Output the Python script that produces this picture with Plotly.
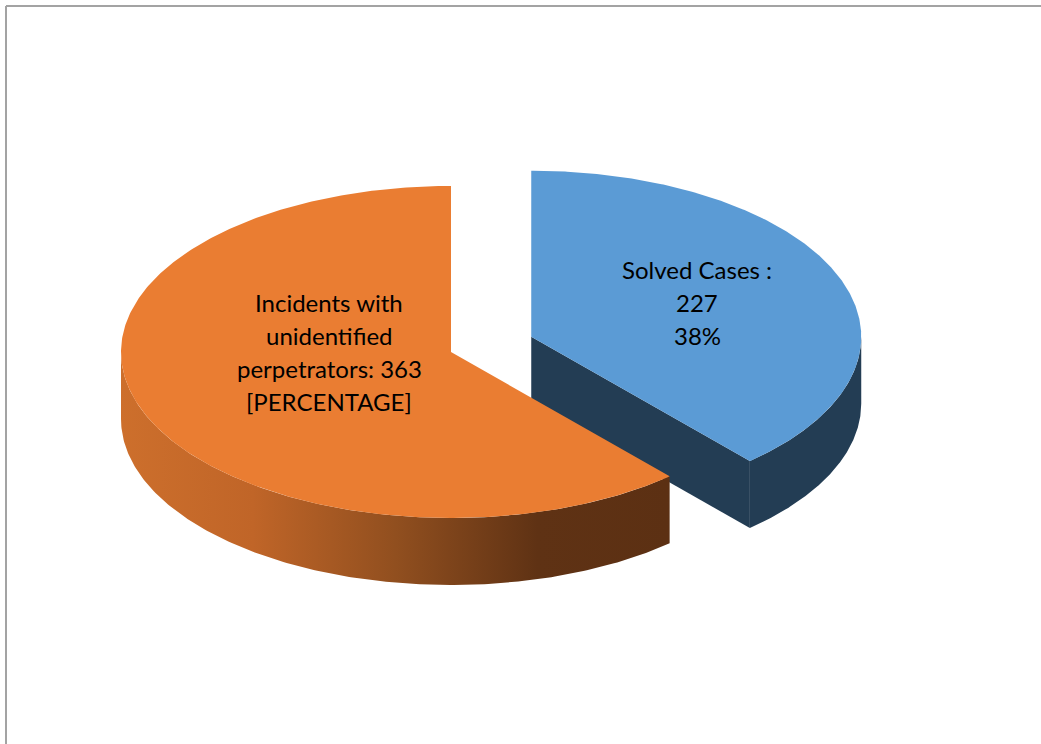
import numpy as np
import plotly.graph_objects as go

# --- data -------------------------------------------------------------
categories = ["Solved Cases", "Incidents with unidentified perpetrators"]
counts = [227, 363]

total = sum(counts)
solved_pct = round(100 * counts[0] / total)

# text lines of each slice label
label_lines = [
    [f"{categories[0]} :", f"{counts[0]}", f"{solved_pct}%"],
    ["Incidents with", "unidentified", f"perpetrators: {counts[1]}", "[PERCENTAGE]"],
]

# --- styling / geometry of the 3-D pie --------------------------------
W, H = 1041, 744
CX, CY = 451.0, 352.0      # centre of the top face (pixels)
RX, RY = 330.0, 166.0      # ellipse radii of the tilted disc
DEPTH = 67.0               # thickness of the disc
explode = [0.26, 0.0]      # radial offset of each slice, fraction of radius
top_colors = ["#5b9bd5", "#ea7d32"]
side_colors = ["#233d54", None]
side_gradients = [None, [[0.0, "#cd6f2c"], [0.24, "#c06528"], [0.5, "#914f1f"],
                         [0.76, "#5f3214"], [1.0, "#5c3013"]]]
label_centres = [(697, 302), (329, 352)]
LINE_STEP = 33
FONT = dict(family="Lato, 'Open Sans', sans-serif", size=24, color="#000000")


def ellipse_pts(cx, cy, angles_deg, dy=0.0):
    a = np.radians(angles_deg)
    return cx + RX * np.cos(a), cy - RY * np.sin(a) + dy


def front_interval(a_lo, a_hi):
    """Part of [a_lo, a_hi] that lies on the near half of the disc (sin < 0)."""
    out = []
    for k in range(-2, 3):
        lo, hi = -180 + 360 * k, 0 + 360 * k
        s, e = max(a_lo, lo), min(a_hi, hi)
        if e > s:
            out.append((s, e))
    return out


fig = go.Figure()

# slice angle spans: start at 12 o'clock, run clockwise
slices = []
cum = 0
for i, v in enumerate(counts):
    a0 = 90 - 360 * cum / total
    cum += v
    a1 = 90 - 360 * cum / total
    mid = (a0 + a1) / 2
    ox = explode[i] * RX * np.cos(np.radians(mid))
    oy = -explode[i] * RY * np.sin(np.radians(mid))
    slices.append(dict(i=i, a0=a0, a1=a1, mid=mid, cx=CX + ox, cy=CY + oy))

# paint back slices first
slices.sort(key=lambda s: -np.sin(np.radians(s["mid"])))

for s in slices:
    i, a0, a1, cx, cy = s["i"], s["a0"], s["a1"], s["cx"], s["cy"]
    if side_gradients[i] is not None:
        side_kw = dict(fillgradient=dict(type="horizontal", colorscale=side_gradients[i]))
    else:
        side_kw = dict(fillcolor=side_colors[i])

    # visible cut face at the clockwise end
    if np.cos(np.radians(a1)) > 1e-9:
        ex, ey = ellipse_pts(cx, cy, [a1])
        xs = [cx, ex[0], ex[0], cx, cx]
        ys = [cy, ey[0], ey[0] + DEPTH, cy + DEPTH, cy]
        fig.add_trace(go.Scatter(x=xs, y=ys, fill="toself", mode="lines",
                                 line=dict(width=0), hoverinfo="skip",
                                 showlegend=False, **side_kw))
    # visible cut face at the counter-clockwise start
    if np.cos(np.radians(a0)) < -1e-9:
        ex, ey = ellipse_pts(cx, cy, [a0])
        xs = [cx, ex[0], ex[0], cx, cx]
        ys = [cy, ey[0], ey[0] + DEPTH, cy + DEPTH, cy]
        fig.add_trace(go.Scatter(x=xs, y=ys, fill="toself", mode="lines",
                                 line=dict(width=0), hoverinfo="skip",
                                 showlegend=False, **side_kw))

    # outer rim on the near half
    for lo, hi in front_interval(a1, a0):
        ang = np.linspace(lo, hi, 200)
        tx, ty = ellipse_pts(cx, cy, ang)
        bx, by = ellipse_pts(cx, cy, ang[::-1], DEPTH)
        xs = np.concatenate([tx, bx, tx[:1]])
        ys = np.concatenate([ty, by, ty[:1]])
        fig.add_trace(go.Scatter(x=xs, y=ys, fill="toself", mode="lines",
                                 line=dict(width=0), hoverinfo="skip",
                                 showlegend=False, **side_kw))

    # top face
    ang = np.linspace(a0, a1, 400)
    tx, ty = ellipse_pts(cx, cy, ang)
    xs = np.concatenate([[cx], tx, [cx]])
    ys = np.concatenate([[cy], ty, [cy]])
    fig.add_trace(go.Scatter(x=xs, y=ys, fill="toself", mode="lines",
                             fillcolor=top_colors[i], line=dict(width=0),
                             hoverinfo="skip", showlegend=False,
                             name=categories[i]))

# slice labels, one annotation per line
for i, lines in enumerate(label_lines):
    lx, ly = label_centres[i]
    n = len(lines)
    for k, txt in enumerate(lines):
        fig.add_annotation(x=lx, y=ly + (k - (n - 1) / 2) * LINE_STEP,
                           xref="x", yref="y", text=txt, showarrow=False,
                           xanchor="center", yanchor="middle", font=FONT)

# chart-area frame
frame = dict(color="#a3a3a3", width=2)
fig.add_shape(type="line", xref="paper", yref="paper",
              x0=6 / W, x1=1.0, y0=1 - 6 / H, y1=1 - 6 / H, line=frame)
fig.add_shape(type="line", xref="paper", yref="paper",
              x0=6 / W, x1=6 / W, y0=0, y1=1 - 6 / H, line=frame)

fig.update_layout(
    width=W, height=H,
    margin=dict(l=0, r=0, t=0, b=0),
    paper_bgcolor="white", plot_bgcolor="white",
    xaxis=dict(range=[0, W], visible=False, fixedrange=True),
    yaxis=dict(range=[H, 0], visible=False, fixedrange=True),
    showlegend=False,
)

fig.write_html("out.html")
